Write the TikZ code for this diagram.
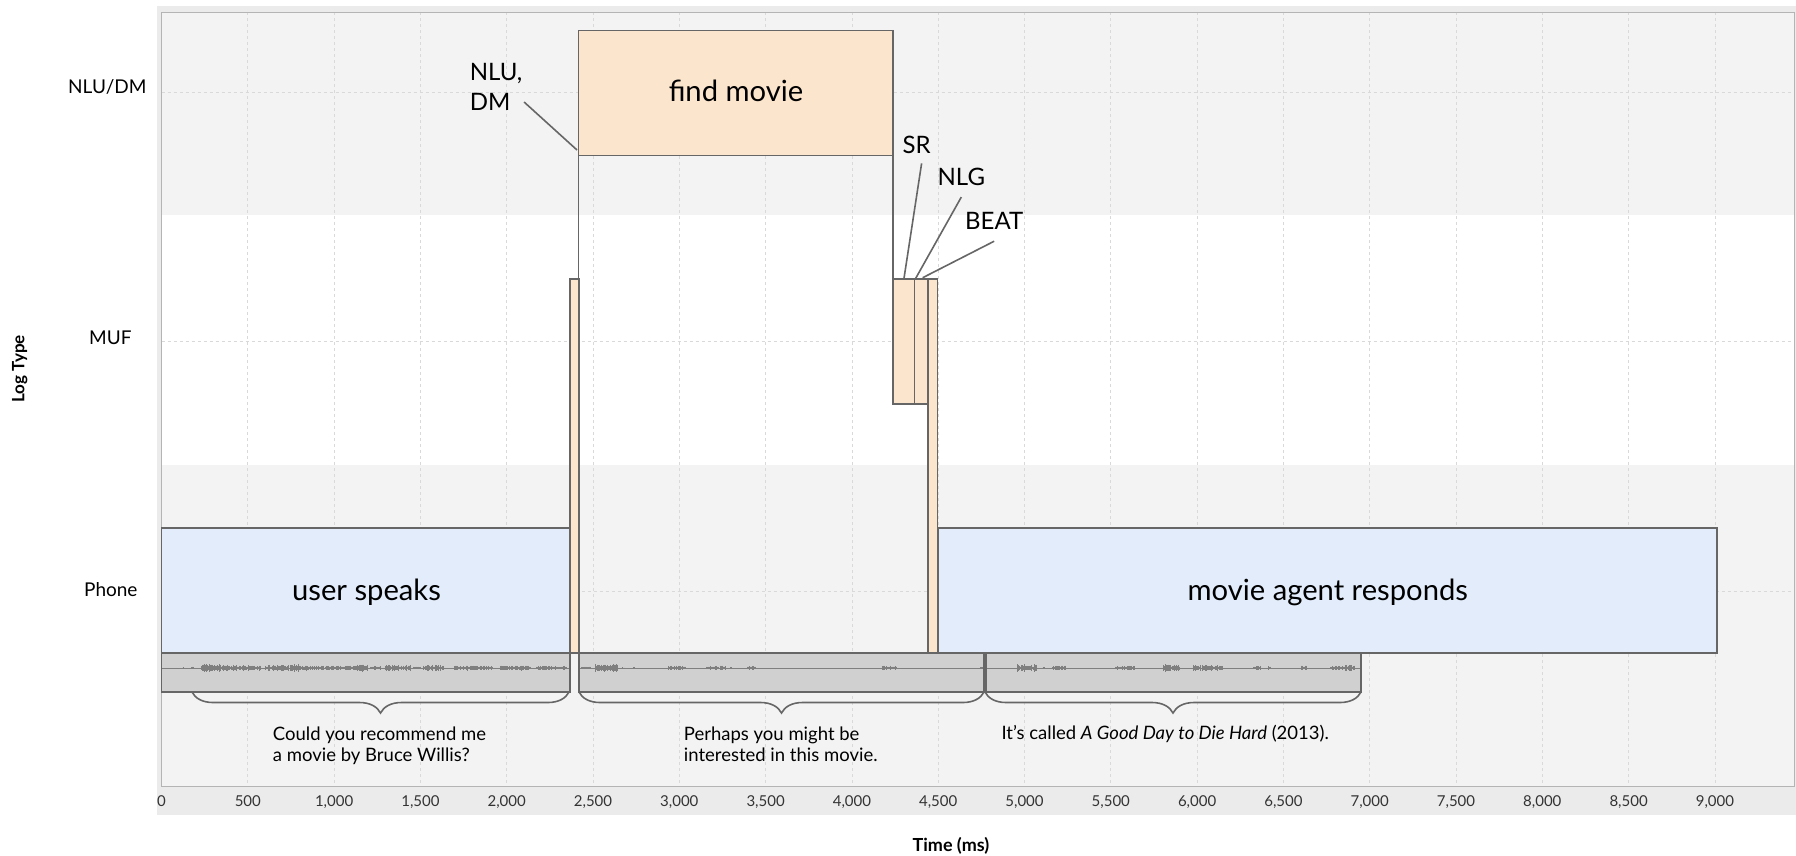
\documentclass[tikz,border=0pt]{standalone}
\usepackage{fontspec}
\setmainfont{Lato}
\usetikzlibrary{decorations.pathreplacing}

\definecolor{framegray}{HTML}{EBEBEB}
\definecolor{bandgray}{HTML}{F3F3F3}
\definecolor{gridgray}{HTML}{D9D9D9}
\definecolor{axisgray}{HTML}{B4B4B4}
\definecolor{edgegray}{HTML}{666666}
\definecolor{boxorange}{HTML}{FCE5CD}
\definecolor{boxblue}{HTML}{E3ECFA}
\definecolor{wavefill}{HTML}{D0D0D0}
\definecolor{wavedark}{HTML}{7F7F7F}

\begin{document}
\begin{tikzpicture}[x=1pt, y=-1pt,
    event/.style={draw=edgegray, line width=1.8pt},
    gridline/.style={gridgray, dash pattern=on 3pt off 3pt, line width=0.8pt},
    leader/.style={draw=edgegray, line width=1.6pt},
    bigtext/.style={font=\fontsize{29.2}{35}\selectfont, anchor=base},
    tag/.style={font=\fontsize{24}{30}\selectfont, inner sep=0pt},
    rowlabel/.style={font=\fontsize{19}{23}\selectfont, anchor=base},
    ticklabel/.style={font=\fontsize{15}{18}\selectfont, text=black!80, anchor=base},
    utterance/.style={font=\fontsize{18.5}{21}\selectfont, align=left, anchor=north west, inner sep=0pt},
    speechbrace/.style={decorate, decoration={brace, amplitude=21pt}, draw=edgegray, line width=1.6pt},
    wave/.style={wavedark, line width=0.9pt}]
    \useasboundingbox (0,0) rectangle (1796,855);

    % Chart background and bands
    \fill[framegray] (157,6) rectangle (1796,815);
    \fill[bandgray] (161.5,12) rectangle (1794,215);
    \fill[white] (161.5,215) rectangle (1794,465);
    \fill[bandgray] (161.5,465) rectangle (1794,786);

    % Grid (every 500 ms, one line per log type)
    \foreach \k in {1,...,18}
        \draw[gridline] ({161.5+86.3*\k},12) -- ({161.5+86.3*\k},786);
    \foreach \y in {92,341,591}
        \draw[gridline] (161.5,\y) -- (1794,\y);
    \draw[axisgray, line width=1pt] (161.5,12) rectangle (1794,786);

    % Axis labels
    \foreach \k/\lab in {0/0,1/500,2/{1,000},3/{1,500},4/{2,000},5/{2,500},6/{3,000},
        7/{3,500},8/{4,000},9/{4,500},10/{5,000},11/{5,500},12/{6,000},13/{6,500},
        14/{7,000},15/{7,500},16/{8,000},17/{8,500},18/{9,000}}
        \node[ticklabel] (tick\k) at ({161.5+86.3*\k},806.5) {\lab};
    \node[rowlabel] (rownlu) at (107.3,93) {NLU/DM};
    \node[rowlabel] (rowmuf) at (110.3,344.3) {MUF};
    \node[rowlabel] (rowphone) at (110.8,596.7) {Phone};
    \node[font=\bfseries\fontsize{17}{20}\selectfont, rotate=90] (logtype) at (19.7,369) {Log Type};
    \node[font=\bfseries\fontsize{18}{21}\selectfont, anchor=base] (timeaxis) at (951,851) {Time (ms)};

    % NLU/DM row
    \draw[event, fill=boxorange] (578.5,30.5) rectangle (893.3,155.5);
    \node[bigtext] (findmovie) at (736,101.7) {find movie};
    \draw[event] (578.5,155.5) -- (578.5,279);
    \draw[event] (893.3,155.5) -- (893.3,279);

    % Phone row
    \draw[event, fill=boxblue] (161.5,527.8) rectangle (569.5,653.3);
    \node[bigtext] (userspeaks) at (366.5,600.7) {user speaks};
    \draw[event, fill=boxblue] (938.3,527.8) rectangle (1717.3,653.3);
    \node[bigtext] (agentresponds) at (1327.8,600.7) {movie agent responds};

    % MUF row
    \draw[event, fill=boxorange] (570.3,279) rectangle (578.8,653.3);
    \draw[event, fill=boxorange] (893.3,279) rectangle (914.5,404.3);
    \draw[event, fill=boxorange] (914.5,279) rectangle (927.7,404.3);
    \draw[event, fill=boxorange] (927.7,279) rectangle (937.5,653.3);

    % Leader labels
    \node[tag, align=left, anchor=north west] (nludm) at (469.6,63) {NLU,\\DM};
    \node[tag, anchor=base] (sr) at (916.6,153) {SR};
    \node[tag, anchor=base] (nlg) at (961.3,185) {NLG};
    \node[tag, anchor=base] (beat) at (994.2,229) {BEAT};
    \coordinate (nludm end) at (577,150);
    \coordinate (sr end) at (904,278.3);
    \coordinate (nlg end) at (915.7,278.3);
    \coordinate (beat end) at (922.7,277.7);
    \draw[leader] ([shift={(1.5pt,8.6pt)}]nludm.south east) -- (nludm end);
    \draw[leader] ([shift={(5pt,-10pt)}]sr.south) -- (sr end);
    \draw[leader] ([yshift=-11.7pt]nlg.south) -- (nlg end);
    \draw[leader] ([yshift=-12pt]beat.south) -- (beat end);

    % Audio waveforms
    \draw[event, fill=wavefill] (161.5,653.3) rectangle (570,692);
    \draw[event, fill=wavefill] (579,653.3) rectangle (984,692);
    \draw[event, fill=wavefill] (986,653.3) rectangle (1361,692);
    \draw[wave] (162,668) -- (569,668);
    \draw[wave] (580,668) -- (983,668);
    \draw[wave] (987,668) -- (1360,668);
    \pgfmathsetseed{42}
    \foreach \a/\b/\m in {182/183/1,191/193/1.5,201/233/4,233/250/3,250/260/2.5,265/288/3,
        290/298/4,298/323/2.5,325/350/2.5,350/367/3.5,370/380/2,385/410/3,413/420/1.5,
        423/443/3,454/492/2.5,500/530/2.5,536/566/2,
        581/590/1.5,595/617/4,622/624/1,633/634/1.5,668/685/2.5,706/718/2,720/725/2.5,
        730/731/1,747/755/2,882/896/2.5,980/982/1.5,
        1017/1036/4,1042/1044/1,1052/1065/2.5,1115/1134/2,1163/1179/4,1193/1200/3,
        1202/1222/3,1253/1260/2,1268/1270/2,1301/1306/2.5,1330/1342/2,1342/1354/3}
        \foreach \x in {\a,...,\b} {
            \pgfmathsetmacro\h{\m*(0.35+0.65*rnd)}
            \draw[wave] (\x,668-\h) -- (\x,668+\h);
        }

    % Utterances
    \draw[speechbrace] (569,692) -- (192,692);
    \draw[speechbrace] (984,692) -- (579,692);
    \draw[speechbrace] (1361,692) -- (985,692);
    \node[utterance] (askmovie) at (272.7,726.5) {Could you recommend me\\a movie by Bruce Willis?};
    \node[utterance] (suggest) at (683.7,726.5) {Perhaps you might be\\interested in this movie.};
    \node[utterance] (title) at (1001.3,725) {It’s called \textit{A Good Day to Die Hard} (2013).};
\end{tikzpicture}
\end{document}
